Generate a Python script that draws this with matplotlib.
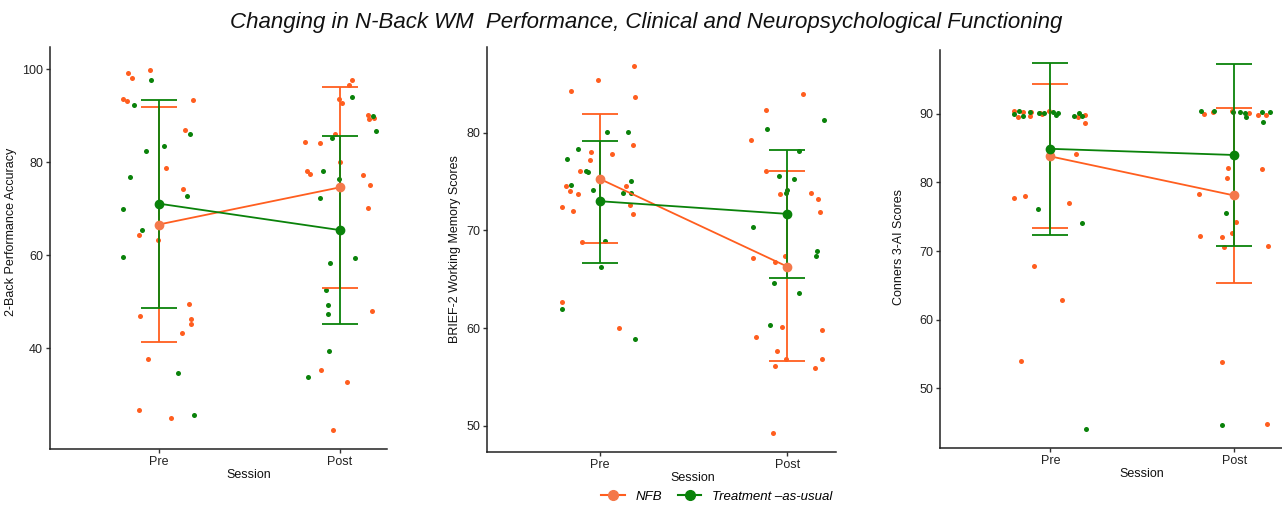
import matplotlib.pyplot as plt
from matplotlib.lines import Line2D

plt.rcParams["font.family"] = ["Liberation Sans", "DejaVu Sans"]

ORANGE = "#FF5E1F"
ORANGE_MEAN = "#F4784A"
GREEN = "#0A820A"

sessions = ["Pre", "Post"]

# ---- panel 1: 2-back accuracy (value, jitter offset)
acc_nfb_pre = [99.1, 98.1, 93.6, 93.1, 99.9, 93.3, 87.0, 78.8, 74.2, 64.3,
               63.3, 49.5, 46.3, 45.3, 43.2, 46.9, 37.7, 26.6, 24.9]
acc_nfb_pre_jit = [-0.169, -0.147, -0.195, -0.173, -0.050, 0.188, 0.147, 0.040, 0.136, -0.110,
                   -0.004, 0.165, 0.180, 0.180, 0.129, -0.103, -0.059, -0.110, 0.068]
acc_tau_pre = [97.8, 92.4, 86.0, 82.5, 83.5, 76.8, 69.9, 72.8, 65.4, 59.7, 34.7, 25.7]
acc_tau_pre_jit = [-0.042, -0.136, 0.171, -0.070, 0.029, -0.158, -0.199, 0.156, -0.090, -0.199, 0.105, 0.193]
acc_nfb_post = [84.3, 84.2, 96.7, 97.6, 93.6, 92.8, 86.0, 80.0, 78.2, 77.4,
                90.1, 89.4, 89.5, 77.2, 75.1, 70.1, 48.1, 35.2, 32.8, 22.3]
acc_nfb_post_jit = [-0.191, -0.112, 0.051, 0.066, -0.007, 0.011, -0.026, 0.0, -0.182, -0.164,
                    0.154, 0.160, 0.189, 0.130, 0.165, 0.154, 0.176, -0.107, 0.037, -0.036]
acc_tau_post = [94.1, 85.3, 90.0, 86.7, 78.2, 76.3, 72.3, 58.3, 59.4, 52.5, 49.2, 47.3, 39.4, 33.9]
acc_tau_post_jit = [0.066, -0.042, 0.185, 0.199, -0.092, -0.006, -0.112, -0.053, 0.086, -0.075,
                    -0.063, -0.064, -0.061, -0.176]
acc_nfb_mean = [66.6, 74.6]
acc_nfb_lo = [41.3, 53.0]
acc_nfb_hi = [91.8, 96.2]
acc_tau_mean = [71.1, 65.4]
acc_tau_lo = [48.7, 45.2]
acc_tau_hi = [93.5, 85.6]

# ---- panel 2: BRIEF-2 working memory
wm_nfb_pre = [85.4, 84.3, 86.9, 83.7, 78.0, 77.2, 77.8, 78.8, 76.1, 74.6,
              74.6, 74.0, 73.7, 72.4, 72.0, 72.6, 71.7, 68.8, 62.7, 60.0]
wm_nfb_pre_jit = [-0.007, -0.150, 0.185, 0.189, -0.046, -0.053, 0.066, 0.178, -0.107, -0.178,
                  0.143, -0.160, -0.114, -0.200, -0.139, 0.160, 0.176, -0.093, -0.198, 0.102]
wm_tau_pre = [77.3, 78.3, 80.1, 80.1, 74.7, 76.1, 76.0, 74.1, 75.1, 73.8, 73.8, 68.9, 66.3, 62.0, 58.9]
wm_tau_pre_jit = [-0.175, -0.114, 0.039, 0.152, -0.150, -0.071, -0.064, -0.037, 0.169, 0.125,
                  0.169, 0.027, 0.009, -0.200, 0.191]
wm_nfb_post = [84.0, 82.3, 79.3, 76.1, 73.7, 73.8, 73.2, 71.9, 67.2, 67.4,
               66.8, 59.1, 60.1, 57.7, 56.8, 56.1, 59.8, 56.8, 55.9, 49.2]
wm_nfb_post_jit = [0.084, -0.114, -0.192, -0.114, -0.036, 0.128, 0.164, 0.173, -0.185, -0.012,
                   -0.064, -0.168, -0.029, -0.055, -0.009, -0.064, 0.185, 0.184, 0.150, -0.078]
wm_tau_post = [80.4, 81.3, 78.1, 75.6, 75.3, 74.1, 73.8, 70.4, 67.9, 67.4, 64.6, 63.6, 60.3]
wm_tau_post_jit = [-0.109, 0.198, 0.064, -0.043, 0.036, -0.002, -0.005, -0.180, 0.159, 0.154,
                   -0.070, 0.064, -0.091]
wm_nfb_mean = [75.3, 66.3]
wm_nfb_lo = [68.7, 56.6]
wm_nfb_hi = [81.9, 76.1]
wm_tau_mean = [73.0, 71.7]
wm_tau_lo = [66.7, 65.1]
wm_tau_hi = [79.2, 78.2]

# ---- panel 3: Conners 3-AI
con_nfb_pre = [90.4, 89.6, 90.3, 89.7, 90.2, 90.1, 90.0, 90.4, 89.6, 89.8,
               88.7, 84.1, 77.7, 78.0, 77.0, 67.8, 62.8, 54.0]
con_nfb_pre_jit = [-0.199, -0.175, -0.146, -0.110, -0.105, -0.056, -0.043, -0.007, 0.148, 0.188,
                   0.190, 0.137, -0.195, -0.137, 0.103, -0.090, 0.065, -0.159]
con_tau_pre = [90.0, 90.4, 89.7, 90.3, 90.1, 90.15, 90.2, 89.9, 90.1, 89.7, 90.15, 89.7, 76.2, 74.1, 44.0]
con_tau_pre_jit = [-0.199, -0.170, -0.148, -0.112, -0.060, -0.036, 0.013, 0.031, 0.043, 0.128,
                   0.154, 0.172, -0.067, 0.172, 0.193]
con_nfb_post = [90.0, 90.2, 90.4, 90.05, 89.8, 89.9, 82.1, 80.7, 81.9, 78.3,
                74.3, 72.7, 72.2, 72.0, 70.6, 70.8, 53.8, 44.8]
con_nfb_post_jit = [-0.166, -0.114, -0.011, 0.083, 0.127, 0.172, -0.031, -0.038, 0.150, -0.193,
                    0.011, -0.011, -0.186, -0.065, -0.056, 0.183, -0.065, 0.181]
con_tau_post = [90.4, 90.4, 90.2, 90.3, 90.1, 89.6, 90.3, 90.2, 88.8, 75.6, 44.6]
con_tau_post_jit = [-0.181, -0.110, -0.004, 0.034, 0.061, 0.065, 0.152, 0.195, 0.157, -0.043, -0.067]
con_nfb_mean = [83.8, 78.1]
con_nfb_lo = [73.3, 65.4]
con_nfb_hi = [94.4, 90.9]
con_tau_mean = [84.9, 84.0]
con_tau_lo = [72.4, 70.7]
con_tau_hi = [97.4, 97.2]


def draw_panel(ax, pts, nfb, tau, ylabel, ylim, yticks):
    # jittered individual scores
    for (vals, jit, xpos, col) in pts:
        ax.scatter([xpos + j for j in jit], vals, s=13, color=col, linewidths=0, zorder=2)
    xs = [1, 2]
    for (mean, lo, hi, col) in (nfb + (ORANGE,), tau + (GREEN,)):
        err = [[m - l for m, l in zip(mean, lo)], [h - m for m, h in zip(mean, hi)]]
        ax.errorbar(xs, mean, yerr=err, fmt="none", ecolor=col, elinewidth=1.3,
                    capsize=13, capthick=1.3, zorder=3)
    for (mean, lo, hi, col) in (nfb + (ORANGE,), tau + (GREEN,)):
        ax.plot(xs, mean, color=col, lw=1.3, zorder=4)
    ax.plot(xs, nfb[0], "o", color=ORANGE_MEAN, ms=6, zorder=5)
    ax.plot(xs, tau[0], "o", color=GREEN, ms=6, zorder=5)

    ax.set_xlim(0.4, 2.26)
    ax.set_ylim(*ylim)
    ax.set_xticks(xs)
    ax.set_xticklabels(sessions)
    ax.set_yticks(yticks)
    for s in ("top", "right"):
        ax.spines[s].set_visible(False)
    for s in ("left", "bottom"):
        ax.spines[s].set_color("#222222")
        ax.spines[s].set_linewidth(1.1)
    ax.tick_params(length=3, width=1, color="#333333", labelsize=9, labelcolor="#222222", pad=2)
    ax.set_xlabel("Session", fontsize=9, color="#111111")
    ax.set_ylabel(ylabel, fontsize=9, color="#111111")
    ax.xaxis.set_label_coords(0.59, -0.05)
    return ax


fig = plt.figure(figsize=(12.82, 5.07), dpi=100)
W, H = 1282, 507

ax1 = fig.add_axes([50 / W, (H - 449) / H, 337 / W, 402 / H])
draw_panel(ax1,
           [(acc_nfb_pre, acc_nfb_pre_jit, 1, ORANGE), (acc_tau_pre, acc_tau_pre_jit, 1, GREEN),
            (acc_nfb_post, acc_nfb_post_jit, 2, ORANGE), (acc_tau_post, acc_tau_post_jit, 2, GREEN)],
           (acc_nfb_mean, acc_nfb_lo, acc_nfb_hi), (acc_tau_mean, acc_tau_lo, acc_tau_hi),
           "2-Back Performance Accuracy", (18.3, 104.8), [40, 60, 80, 100])
ax1.yaxis.set_label_coords(-0.098, 0.54)

ax2 = fig.add_axes([487 / W, (H - 452) / H, 349 / W, 405 / H])
draw_panel(ax2,
           [(wm_nfb_pre, wm_nfb_pre_jit, 1, ORANGE), (wm_tau_pre, wm_tau_pre_jit, 1, GREEN),
            (wm_nfb_post, wm_nfb_post_jit, 2, ORANGE), (wm_tau_post, wm_tau_post_jit, 2, GREEN)],
           (wm_nfb_mean, wm_nfb_lo, wm_nfb_hi), (wm_tau_mean, wm_tau_lo, wm_tau_hi),
           "BRIEF-2 Working Memory Scores", (47.3, 88.8), [50, 60, 70, 80])
ax2.yaxis.set_label_coords(-0.074, 0.5)

ax3 = fig.add_axes([940 / W, (H - 448) / H, 342 / W, 398 / H])
draw_panel(ax3,
           [(con_nfb_pre, con_nfb_pre_jit, 1, ORANGE), (con_tau_pre, con_tau_pre_jit, 1, GREEN),
            (con_nfb_post, con_nfb_post_jit, 2, ORANGE), (con_tau_post, con_tau_post_jit, 2, GREEN)],
           (con_nfb_mean, con_nfb_lo, con_nfb_hi), (con_tau_mean, con_tau_lo, con_tau_hi),
           "Conners 3-AI Scores", (41.3, 99.3), [50, 60, 70, 80, 90])
ax3.yaxis.set_label_coords(-0.102, 0.506)

fig.text(0.504, 0.955, "Changing in N-Back WM  Performance, Clinical and Neuropsychological Functioning",
         ha="center", va="center", fontsize=16, style="italic", color="#111111")

handles = [
    Line2D([], [], color=ORANGE, lw=1.5, marker="o", ms=7, markerfacecolor=ORANGE_MEAN,
           markeredgecolor=ORANGE_MEAN),
    Line2D([], [], color=GREEN, lw=1.5, marker="o", ms=7),
]
fig.legend(handles, ["NFB", "Treatment \u2013as-usual"], loc="center", bbox_to_anchor=(0.559, 0.02),
           ncol=2, frameon=False, prop={"style": "italic", "size": 9.5}, handlelength=1.8,
           columnspacing=1.2, handletextpad=0.8)

fig.savefig("out.png", dpi=100)
